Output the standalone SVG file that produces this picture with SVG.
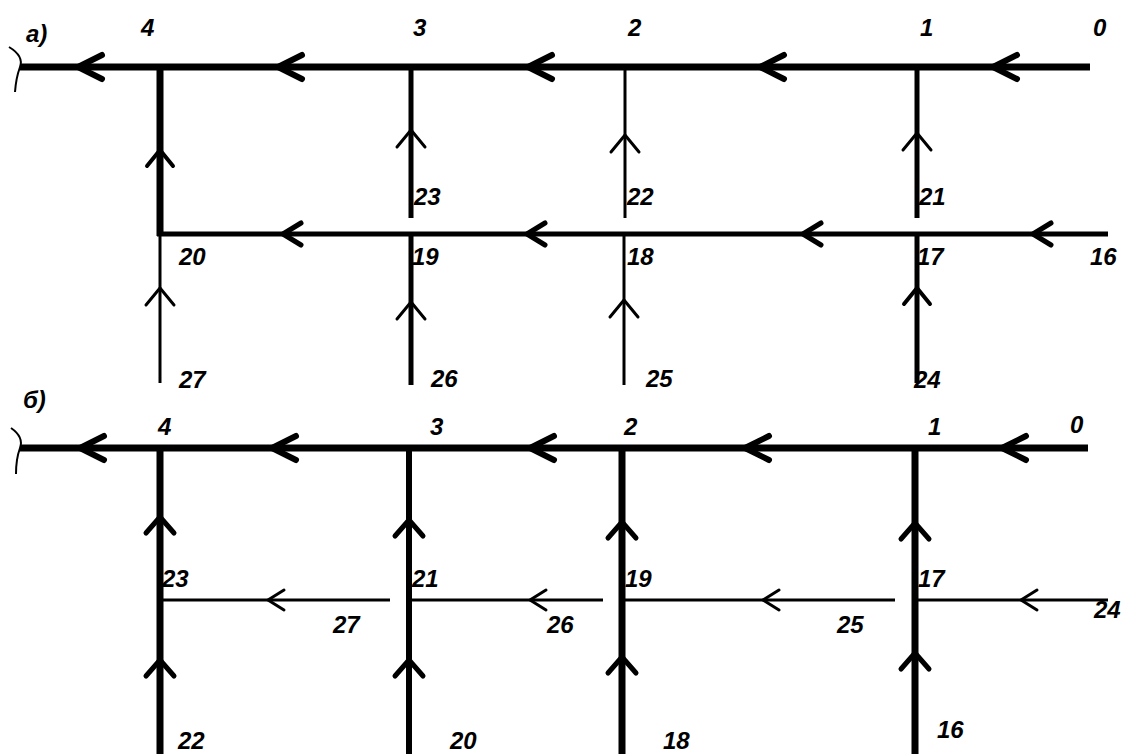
<svg xmlns="http://www.w3.org/2000/svg" xmlns:xlink="http://www.w3.org/1999/xlink" width="1132" height="754" viewBox="0 0 1132 754">
<style>
  .ln { stroke: #000; fill: none; stroke-linecap: butt; }
  .w7 { stroke-width: 7; }
  .w6 { stroke-width: 6; }
  .w5 { stroke-width: 5; }
  .w3 { stroke-width: 3; }
  .w2 { stroke-width: 2; }
  .ch { stroke: #000; fill: none; stroke-linecap: round; stroke-linejoin: round; }
  .lbl { font-family: "Liberation Sans", Arial, sans-serif; font-size: 24px; font-weight: bold; font-style: italic; fill: #000; }
</style>
<defs>
  <path id="chL7" class="ch" stroke-width="6" d="M24,-12 L0,0 L24,12"/>
  <path id="chL5" class="ch" stroke-width="5" d="M18,-11 L0,0 L18,11"/>
  <path id="chL3" class="ch" stroke-width="3" d="M16,-10 L0,0 L16,10"/>
  <path id="chU3" class="ch" stroke-width="3" d="M-14,17 L0,0 L14,17"/>
  <path id="chU4" class="ch" stroke-width="4" d="M-13,16 L0,0 L13,16"/>
  <path id="chU5" class="ch" stroke-width="5" d="M-14,16 L0,0 L14,16"/>
</defs>

<g id="connectors">
  <g id="conn-a">
    <path class="ln w2" d="M9,47 Q24,56 20,67 Q16,78 15,92"/>
    <line class="ln w7" x1="20" y1="67" x2="1090" y2="67"/>
    <line class="ln w7" x1="160" y1="64" x2="160" y2="236"/>
    <line class="ln w5" x1="411" y1="67" x2="411" y2="218"/>
    <line class="ln w3" x1="625" y1="67" x2="625" y2="218"/>
    <line class="ln w5" x1="917" y1="67" x2="917" y2="218"/>
    <line class="ln w5" x1="157" y1="234" x2="1108" y2="234"/>
    <line class="ln w3" x1="160" y1="234" x2="160" y2="383"/>
    <line class="ln w5" x1="411" y1="236" x2="411" y2="385"/>
    <line class="ln w3" x1="624" y1="236" x2="624" y2="385"/>
    <line class="ln w5" x1="917" y1="236" x2="917" y2="383"/>
    <use xlink:href="#chL7" x="78" y="67"/>
    <use xlink:href="#chL7" x="278" y="67"/>
    <use xlink:href="#chL7" x="528" y="67"/>
    <use xlink:href="#chL7" x="760" y="67"/>
    <use xlink:href="#chL7" x="993" y="67"/>
    <use xlink:href="#chL5" x="283" y="234"/>
    <use xlink:href="#chL5" x="527" y="234"/>
    <use xlink:href="#chL5" x="803" y="234"/>
    <use xlink:href="#chL5" x="1033" y="234"/>
    <use xlink:href="#chU4" x="160" y="150"/>
    <use xlink:href="#chU3" x="411" y="130"/>
    <use xlink:href="#chU3" x="625" y="135"/>
    <use xlink:href="#chU3" x="917" y="133"/>
    <use xlink:href="#chU3" x="160" y="288"/>
    <use xlink:href="#chU3" x="411" y="302"/>
    <use xlink:href="#chU3" x="624" y="300"/>
    <use xlink:href="#chU4" x="917" y="288"/>
  </g>
  <g id="conn-b">
    <path class="ln w2" d="M11,428 Q24,437 20,448 Q16,459 16,474"/>
    <line class="ln w7" x1="20" y1="448" x2="1088" y2="448"/>
    <line class="ln w7" x1="160" y1="448" x2="160" y2="754"/>
    <line class="ln w6" x1="409" y1="448" x2="409" y2="754"/>
    <line class="ln w7" x1="622" y1="448" x2="622" y2="754"/>
    <line class="ln w7" x1="915" y1="448" x2="915" y2="754"/>
    <line class="ln w3" x1="160" y1="600" x2="390" y2="600"/>
    <line class="ln w3" x1="409" y1="600" x2="603" y2="600"/>
    <line class="ln w3" x1="622" y1="600" x2="895" y2="600"/>
    <line class="ln w3" x1="915" y1="600" x2="1108" y2="600"/>
    <use xlink:href="#chL7" x="80" y="448"/>
    <use xlink:href="#chL7" x="272" y="448"/>
    <use xlink:href="#chL7" x="530" y="448"/>
    <use xlink:href="#chL7" x="745" y="448"/>
    <use xlink:href="#chL7" x="1002" y="448"/>
    <use xlink:href="#chL3" x="268" y="600"/>
    <use xlink:href="#chL3" x="530" y="600"/>
    <use xlink:href="#chL3" x="763" y="600"/>
    <use xlink:href="#chL3" x="1021" y="600"/>
    <use xlink:href="#chU5" x="160" y="517"/>
    <use xlink:href="#chU5" x="409" y="520"/>
    <use xlink:href="#chU5" x="622" y="522"/>
    <use xlink:href="#chU5" x="915" y="523"/>
    <use xlink:href="#chU5" x="160" y="660"/>
    <use xlink:href="#chU5" x="409" y="660"/>
    <use xlink:href="#chU5" x="622" y="657"/>
    <use xlink:href="#chU5" x="915" y="653"/>
  </g>
</g>

<g id="a-title"><text class="lbl" x="26" y="42">а)</text></g>
<g id="a-n4"><text class="lbl" x="141" y="36">4</text></g>
<g id="a-n3"><text class="lbl" x="413" y="36">3</text></g>
<g id="a-n2"><text class="lbl" x="628" y="36">2</text></g>
<g id="a-n1"><text class="lbl" x="920" y="36">1</text></g>
<g id="a-n0"><text class="lbl" x="1093" y="36">0</text></g>
<g id="a-n23"><text class="lbl" x="414" y="205">23</text></g>
<g id="a-n22"><text class="lbl" x="627" y="205">22</text></g>
<g id="a-n21"><text class="lbl" x="919" y="205">21</text></g>
<g id="a-n20"><text class="lbl" x="179" y="265">20</text></g>
<g id="a-n19"><text class="lbl" x="412" y="265">19</text></g>
<g id="a-n18"><text class="lbl" x="627" y="265">18</text></g>
<g id="a-n17"><text class="lbl" x="917" y="265">17</text></g>
<g id="a-n16"><text class="lbl" x="1090" y="265">16</text></g>
<g id="a-n27"><text class="lbl" x="179" y="388">27</text></g>
<g id="a-n26"><text class="lbl" x="431" y="387">26</text></g>
<g id="a-n25"><text class="lbl" x="646" y="387">25</text></g>
<g id="a-n24"><text class="lbl" x="914" y="388">24</text></g>

<g id="b-title"><text class="lbl" x="23" y="408">б)</text></g>
<g id="b-n4"><text class="lbl" x="158" y="435">4</text></g>
<g id="b-n3"><text class="lbl" x="430" y="435">3</text></g>
<g id="b-n2"><text class="lbl" x="624" y="435">2</text></g>
<g id="b-n1"><text class="lbl" x="928" y="435">1</text></g>
<g id="b-n0"><text class="lbl" x="1070" y="433">0</text></g>
<g id="b-n23"><text class="lbl" x="162" y="587">23</text></g>
<g id="b-n21"><text class="lbl" x="412" y="587">21</text></g>
<g id="b-n19"><text class="lbl" x="625" y="587">19</text></g>
<g id="b-n17"><text class="lbl" x="918" y="587">17</text></g>
<g id="b-n27"><text class="lbl" x="333" y="633">27</text></g>
<g id="b-n26"><text class="lbl" x="547" y="633">26</text></g>
<g id="b-n25"><text class="lbl" x="837" y="633">25</text></g>
<g id="b-n24"><text class="lbl" x="1094" y="618">24</text></g>
<g id="b-n16"><text class="lbl" x="937" y="738">16</text></g>
<g id="b-n22"><text class="lbl" x="178" y="749">22</text></g>
<g id="b-n20"><text class="lbl" x="450" y="749">20</text></g>
<g id="b-n18"><text class="lbl" x="663" y="749">18</text></g>
</svg>
